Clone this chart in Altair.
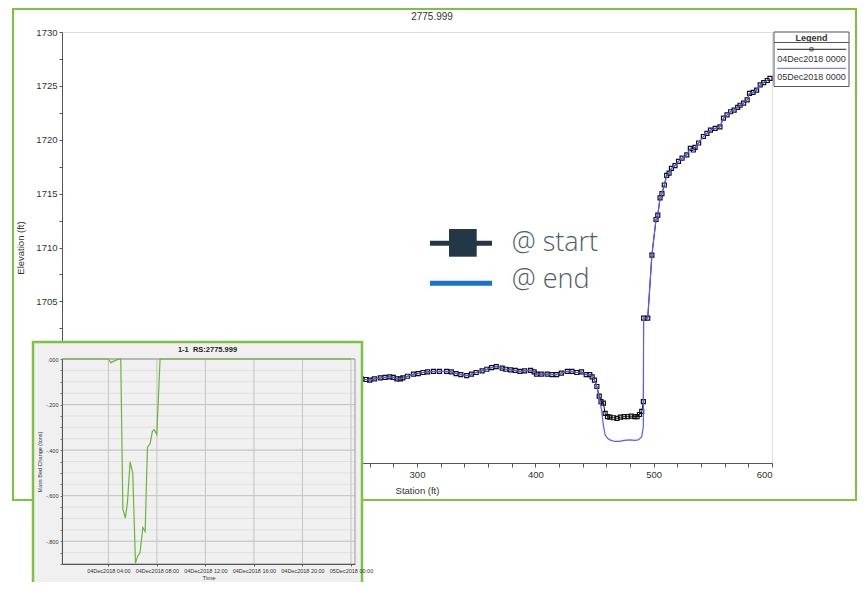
import altair as alt
import pandas as pd

# ---------------- data ----------------
start_station = [240, 248, 253, 257, 260, 264, 269, 273, 277, 280, 283, 286, 288, 292, 297,
                 301, 305, 309, 314, 319, 325, 329, 333, 337, 342, 346, 350, 355, 359, 363,
                 367, 372, 375, 379, 383, 387, 391, 396, 399, 401, 405, 410, 414, 418, 422,
                 427, 431, 435, 439, 443, 446, 448, 450, 452, 454, 455.5, 457.5, 459, 461, 463,
                 466, 469, 472, 475, 478, 481, 484, 486, 488, 489.9, 491.3, 491.5, 495, 498.5,
                 502, 503.5, 505.4, 507, 509, 511, 513, 515, 518, 521, 524, 528, 531, 533.5,
                 535, 538, 542, 545, 548, 552, 556, 559, 562, 565, 568, 571, 573, 576, 579,
                 581, 584, 587, 590, 593, 596, 598.3]
start_elev = [1697.8, 1697.7, 1697.8, 1697.75, 1697.7, 1697.8, 1697.9, 1697.95, 1698.0, 1697.95,
              1697.8, 1697.8, 1697.9, 1698.05, 1698.25, 1698.3, 1698.4, 1698.45, 1698.5, 1698.5,
              1698.5, 1698.45, 1698.3, 1698.2, 1698.1, 1698.25, 1698.4, 1698.55, 1698.7, 1698.85,
              1698.95, 1698.8, 1698.7, 1698.65, 1698.6, 1698.5, 1698.55, 1698.6, 1698.45, 1698.25,
              1698.25, 1698.25, 1698.2, 1698.2, 1698.35, 1698.5, 1698.5, 1698.4, 1698.45, 1698.2,
              1698.2, 1698.0, 1697.7, 1697.1, 1696.2, 1695.7, 1695.55, 1694.6, 1694.3, 1694.25,
              1694.2, 1694.15, 1694.25, 1694.3, 1694.3, 1694.35, 1694.3, 1694.3, 1694.5, 1694.8,
              1695.7, 1703.45, 1703.45, 1709.3, 1712.6, 1713.0, 1714.6, 1715.0, 1715.8, 1716.7,
              1716.9, 1717.35, 1717.6, 1718.0, 1718.3, 1718.6, 1719.2, 1719.05, 1719.3, 1719.7,
              1720.3, 1720.6, 1720.9, 1721.05, 1721.2, 1722.0, 1722.3, 1722.6, 1722.75, 1723.0,
              1723.2, 1723.4, 1723.7, 1724.3, 1724.4, 1724.6, 1725.1, 1725.3, 1725.5, 1725.7]

# end profile differs from the start profile only inside the channel
end_ch_station = [452, 454, 456, 457.5, 459, 461, 463, 467, 471, 475, 480, 484, 487, 489.9, 491.3]
end_ch_elev = [1697.1, 1696.0, 1694.9, 1693.5, 1692.6, 1692.3, 1692.15, 1692.0, 1692.0, 1692.1,
               1692.15, 1692.1, 1692.15, 1692.45, 1693.4]

# inset: mass bed change (tons) vs hours after 04Dec2018 00:00
inset_hours = [0.2, 4.0, 4.2, 4.55, 4.77, 5.02, 5.19, 5.40, 5.57, 5.79, 6.01, 6.23, 6.39, 6.61,
               6.84, 7.03, 7.22, 7.44, 7.63, 7.77, 7.99, 8.26, 24.0]
inset_mass = [0, 0, -0.016, -0.007, -0.002, 0, -0.658, -0.698, -0.63, -0.452, -0.502, -0.897,
              -0.868, -0.85, -0.74, -0.758, -0.388, -0.371, -0.317, -0.31, -0.331, 0, 0]

main_x_ticks = list(range(0, 601, 20))
main_y_ticks = [1690 + 2.5 * i for i in range(17)]
inset_y_minor = [0, -0.05, -0.1, -0.15, -0.2, -0.25, -0.3, -0.35, -0.4, -0.45, -0.5, -0.55,
                 -0.6, -0.65, -0.7, -0.75, -0.8, -0.85, -0.9]
inset_y_major = [0, -0.2, -0.4, -0.6, -0.8]
inset_x_ticks = [4, 8, 12, 16, 20, 24]
inset_x_domain = [0.2, 24.33]

legend_labels = ["04Dec2018 0000", "05Dec2018 0000"]
annot_labels = ["@ start", "@ end"]
main_title = "2775.999"
inset_title = "1-1\u00a0 RS:2775.999"

# ---------------- tables ----------------
assert len(start_station) == len(start_elev)
start_df = pd.DataFrame({"station": start_station, "elev": start_elev})
start_df["order"] = range(len(start_df))
end_df = pd.concat([
    start_df[start_df.station <= 450][["station", "elev"]],
    pd.DataFrame({"station": end_ch_station, "elev": end_ch_elev}),
    start_df[start_df.station >= 491.5][["station", "elev"]],
], ignore_index=True)
end_df["order"] = range(len(end_df))

inset_df = pd.DataFrame({"hour": inset_hours, "mass": inset_mass})
inset_df["order"] = range(len(inset_df))
hminor_df = pd.DataFrame({"mass": inset_y_minor, "hour": inset_x_domain[0], "h1": inset_x_domain[1]})
hmajor_df = pd.DataFrame({"mass": inset_y_major, "hour": inset_x_domain[0], "h1": inset_x_domain[1]})
vgrid_df = pd.DataFrame({"hour": inset_x_ticks, "mass": -0.9, "m1": 0.0})
border_df = pd.DataFrame({"hour": [inset_x_domain[0]], "h1": [inset_x_domain[1]],
                          "mass": [-0.9], "m1": [0.0]})
one = pd.DataFrame({"k": [0]})

FONT = "Liberation Sans"
GREEN = "#7dc242"

# ---------------- main chart ----------------
mx_scale = alt.Scale(domain=[0, 600], nice=False, zero=False)
my_scale = alt.Scale(domain=[1690, 1730], nice=False, zero=False)
# labels that lie under the inset are not drawn (the inset hides them in the reference)
mx_axis = alt.Axis(orient="bottom", values=main_x_ticks,
                   labelExpr="datum.value % 100 === 0 && datum.value >= 300 ? format(datum.value, 'd') : ''",
                   title="Station (ft)", grid=False, tickSize=4, labelPadding=2, titlePadding=7,
                   domainColor="#555", tickColor="#555", labelColor="#333", titleColor="#333",
                   labelFontSize=9.5, titleFontSize=9.5, titleFontWeight="normal", labelFont=FONT,
                   titleFont=FONT)
my_axis = alt.Axis(orient="left", values=main_y_ticks,
                   labelExpr="datum.value % 5 === 0 && datum.value >= 1705 ? format(datum.value, 'd') : ''",
                   title="Elevation (ft)", grid=False, tickSize=3, labelPadding=2, titlePadding=10,
                   domainColor="#555", tickColor="#555", labelColor="#333", titleColor="#333",
                   labelFontSize=9.5, titleFontSize=9.5, titleFontWeight="normal", labelFont=FONT,
                   titleFont=FONT)

def mx(ax=None): return alt.X("station:Q", scale=mx_scale, axis=ax)
def my(ax=None): return alt.Y("elev:Q", scale=my_scale, axis=ax)

start_line = alt.Chart(start_df).mark_line(color="#111", strokeWidth=1).encode(
    x=mx(mx_axis), y=my(my_axis), order="order:Q")
start_pts = alt.Chart(start_df).mark_point(shape="square", size=16, filled=False, color="#111",
                                           strokeWidth=1.2, opacity=1).encode(x=mx(), y=my())
end_line = alt.Chart(end_df).mark_line(color="#5a5aff", strokeWidth=1.2).encode(
    x=mx(), y=my(), order="order:Q")

# ---------------- decoration helpers ----------------
def text_at(txt, x, y, **kw):
    return alt.Chart(one).mark_text(**kw).encode(x=alt.value(x), y=alt.value(y), text=alt.value(txt))

def hrule(x1, x2, y, **kw):
    return alt.Chart(one).mark_rule(**kw).encode(x=alt.value(x1), x2=alt.value(x2), y=alt.value(y))

def box(x1, x2, y1, y2, **kw):
    return alt.Chart(one).mark_rect(**kw).encode(x=alt.value(x1), x2=alt.value(x2),
                                                 y=alt.value(y1), y2=alt.value(y2))

main_frame = box(-49, 794, -23, 468, fillOpacity=0, stroke=GREEN, strokeWidth=2)
title_txt = text_at(main_title, 370, -15, fontSize=10, font=FONT, color="#333", baseline="middle")

LX = -3  # legend shifted slightly left to stay inside the frame
leg = [
    box(715 + LX, 790 + LX, 0, 54.5, fill="white", stroke="#555", strokeWidth=1),
    text_at("Legend", 752.5 + LX, 5.5, fontSize=9, fontWeight="bold", font=FONT, color="#333",
            baseline="middle"),
    hrule(715 + LX, 790 + LX, 10.5, color="#555", strokeWidth=1),
    hrule(718 + LX, 787 + LX, 17.3, color="#222", strokeWidth=1),
    alt.Chart(one).mark_point(shape="square", size=10, filled=False, color="#222", strokeWidth=1).encode(
        x=alt.value(752.5 + LX), y=alt.value(17.3)),
    text_at(legend_labels[0], 752.5 + LX, 27, fontSize=9, font=FONT, color="#333", baseline="middle"),
    hrule(718 + LX, 787 + LX, 36.3, color="#8080ff", strokeWidth=1.2),
    text_at(legend_labels[1], 752.5 + LX, 45.3, fontSize=9, font=FONT, color="#333", baseline="middle"),
]

annot = [
    hrule(368, 430, 211.3, color="#243746", strokeWidth=5),
    box(387, 414.7, 197, 224.7, fill="#243746"),
    text_at(annot_labels[0], 449.7, 211, fontSize=27, font="Open Sans", fontWeight=300,
            color="#4f5d68", align="left", baseline="middle"),
    hrule(368, 430, 251.3, color="#1a73c9", strokeWidth=5),
    text_at(annot_labels[1], 449.7, 248, fontSize=27, font="Open Sans", fontWeight=300,
            color="#4f5d68", align="left", baseline="middle"),
]

# ---------------- inset chart ----------------
IY0, IY1 = 532.0, 327.0   # inset plot bottom / top in view pixels
ix_scale = alt.Scale(domain=inset_x_domain, range=[0.3, 293], nice=False, zero=False)
iy_scale = alt.Scale(domain=[-0.9, 0], range=[IY0, IY1], nice=False, zero=False)
ix_axis = alt.Axis(orient="bottom", offset=IY0 - 431, zindex=1, grid=False, title="Time",
                   values=inset_x_ticks,
                   labelExpr="datum.value >= 24 ? '05Dec2018 00:00' : '04Dec2018 ' + "
                             "(datum.value < 10 ? '0' : '') + datum.value + ':00'",
                   labelFontSize=5.5, titleFontSize=6, titleFontWeight="normal", labelColor="#333",
                   titleColor="#333", tickSize=2, labelPadding=2, titlePadding=1,
                   domainColor="#555", tickColor="#555", labelFont=FONT, titleFont=FONT)
iy_axis = alt.Axis(orient="left", offset=0, zindex=1, grid=False, title="Mass Bed Change (tons)",
                   values=inset_y_minor,
                   labelExpr="abs(datum.value*5 - round(datum.value*5)) < 0.001 ? "
                             "(datum.value < -0.0001 ? '-' + replace(format(-datum.value, '.3f'), '0.', '.') : '.000') : ''",
                   labelFontSize=5.5, titleFontSize=5.5, titleFontWeight="normal", labelColor="#333",
                   titleColor="#333", tickSize=2, labelPadding=2, titlePadding=3,
                   domainColor="#555", tickColor="#777", labelFont=FONT, titleFont=FONT)

def ix(ax=None): return alt.X("hour:Q", scale=ix_scale, axis=ax)
def iy(ax=None): return alt.Y("mass:Q", scale=iy_scale, axis=ax)

inset_bg = box(-29, 300, 310, 566, fill="#f0f0f0", stroke=GREEN, strokeWidth=2.5)
h_minor = alt.Chart(hminor_df).mark_rule(color="#e0e0e0", strokeWidth=1).encode(
    x=ix(), x2="h1:Q", y=iy())
h_major = alt.Chart(hmajor_df).mark_rule(color="#c4c4c4", strokeWidth=1).encode(
    x=ix(), x2="h1:Q", y=iy())
v_grid = alt.Chart(vgrid_df).mark_rule(color="#c4c4c4", strokeWidth=1).encode(
    x=ix(), y=iy(), y2="m1:Q")
border = alt.Chart(border_df).mark_rect(fillOpacity=0, stroke="#999", strokeWidth=1).encode(
    x=ix(), x2="h1:Q", y=iy(), y2="m1:Q")
inset_line = alt.Chart(inset_df).mark_line(color="#6cb33f", strokeWidth=1.2).encode(
    x=ix(ix_axis), y=iy(iy_axis), order="order:Q")
inset_ttl = text_at(inset_title, 145.5, 318, fontSize=7.5, fontWeight="bold", font=FONT,
                    color="#222", baseline="middle")

chart = alt.layer(
    main_frame, start_line, start_pts, end_line, *leg, *annot, title_txt,
    inset_bg, h_minor, h_major, v_grid, border, inset_line, inset_ttl
).resolve_scale(x="independent", y="independent").properties(
    width=710, height=431,
    padding={"left": 54, "top": 24, "right": 85, "bottom": 119},
    autosize=alt.AutoSizeParams(type="none"),
).configure_view(stroke=None).configure(font=FONT)

chart.save("out.html", embed_options={"renderer": "svg", "actions": False})
